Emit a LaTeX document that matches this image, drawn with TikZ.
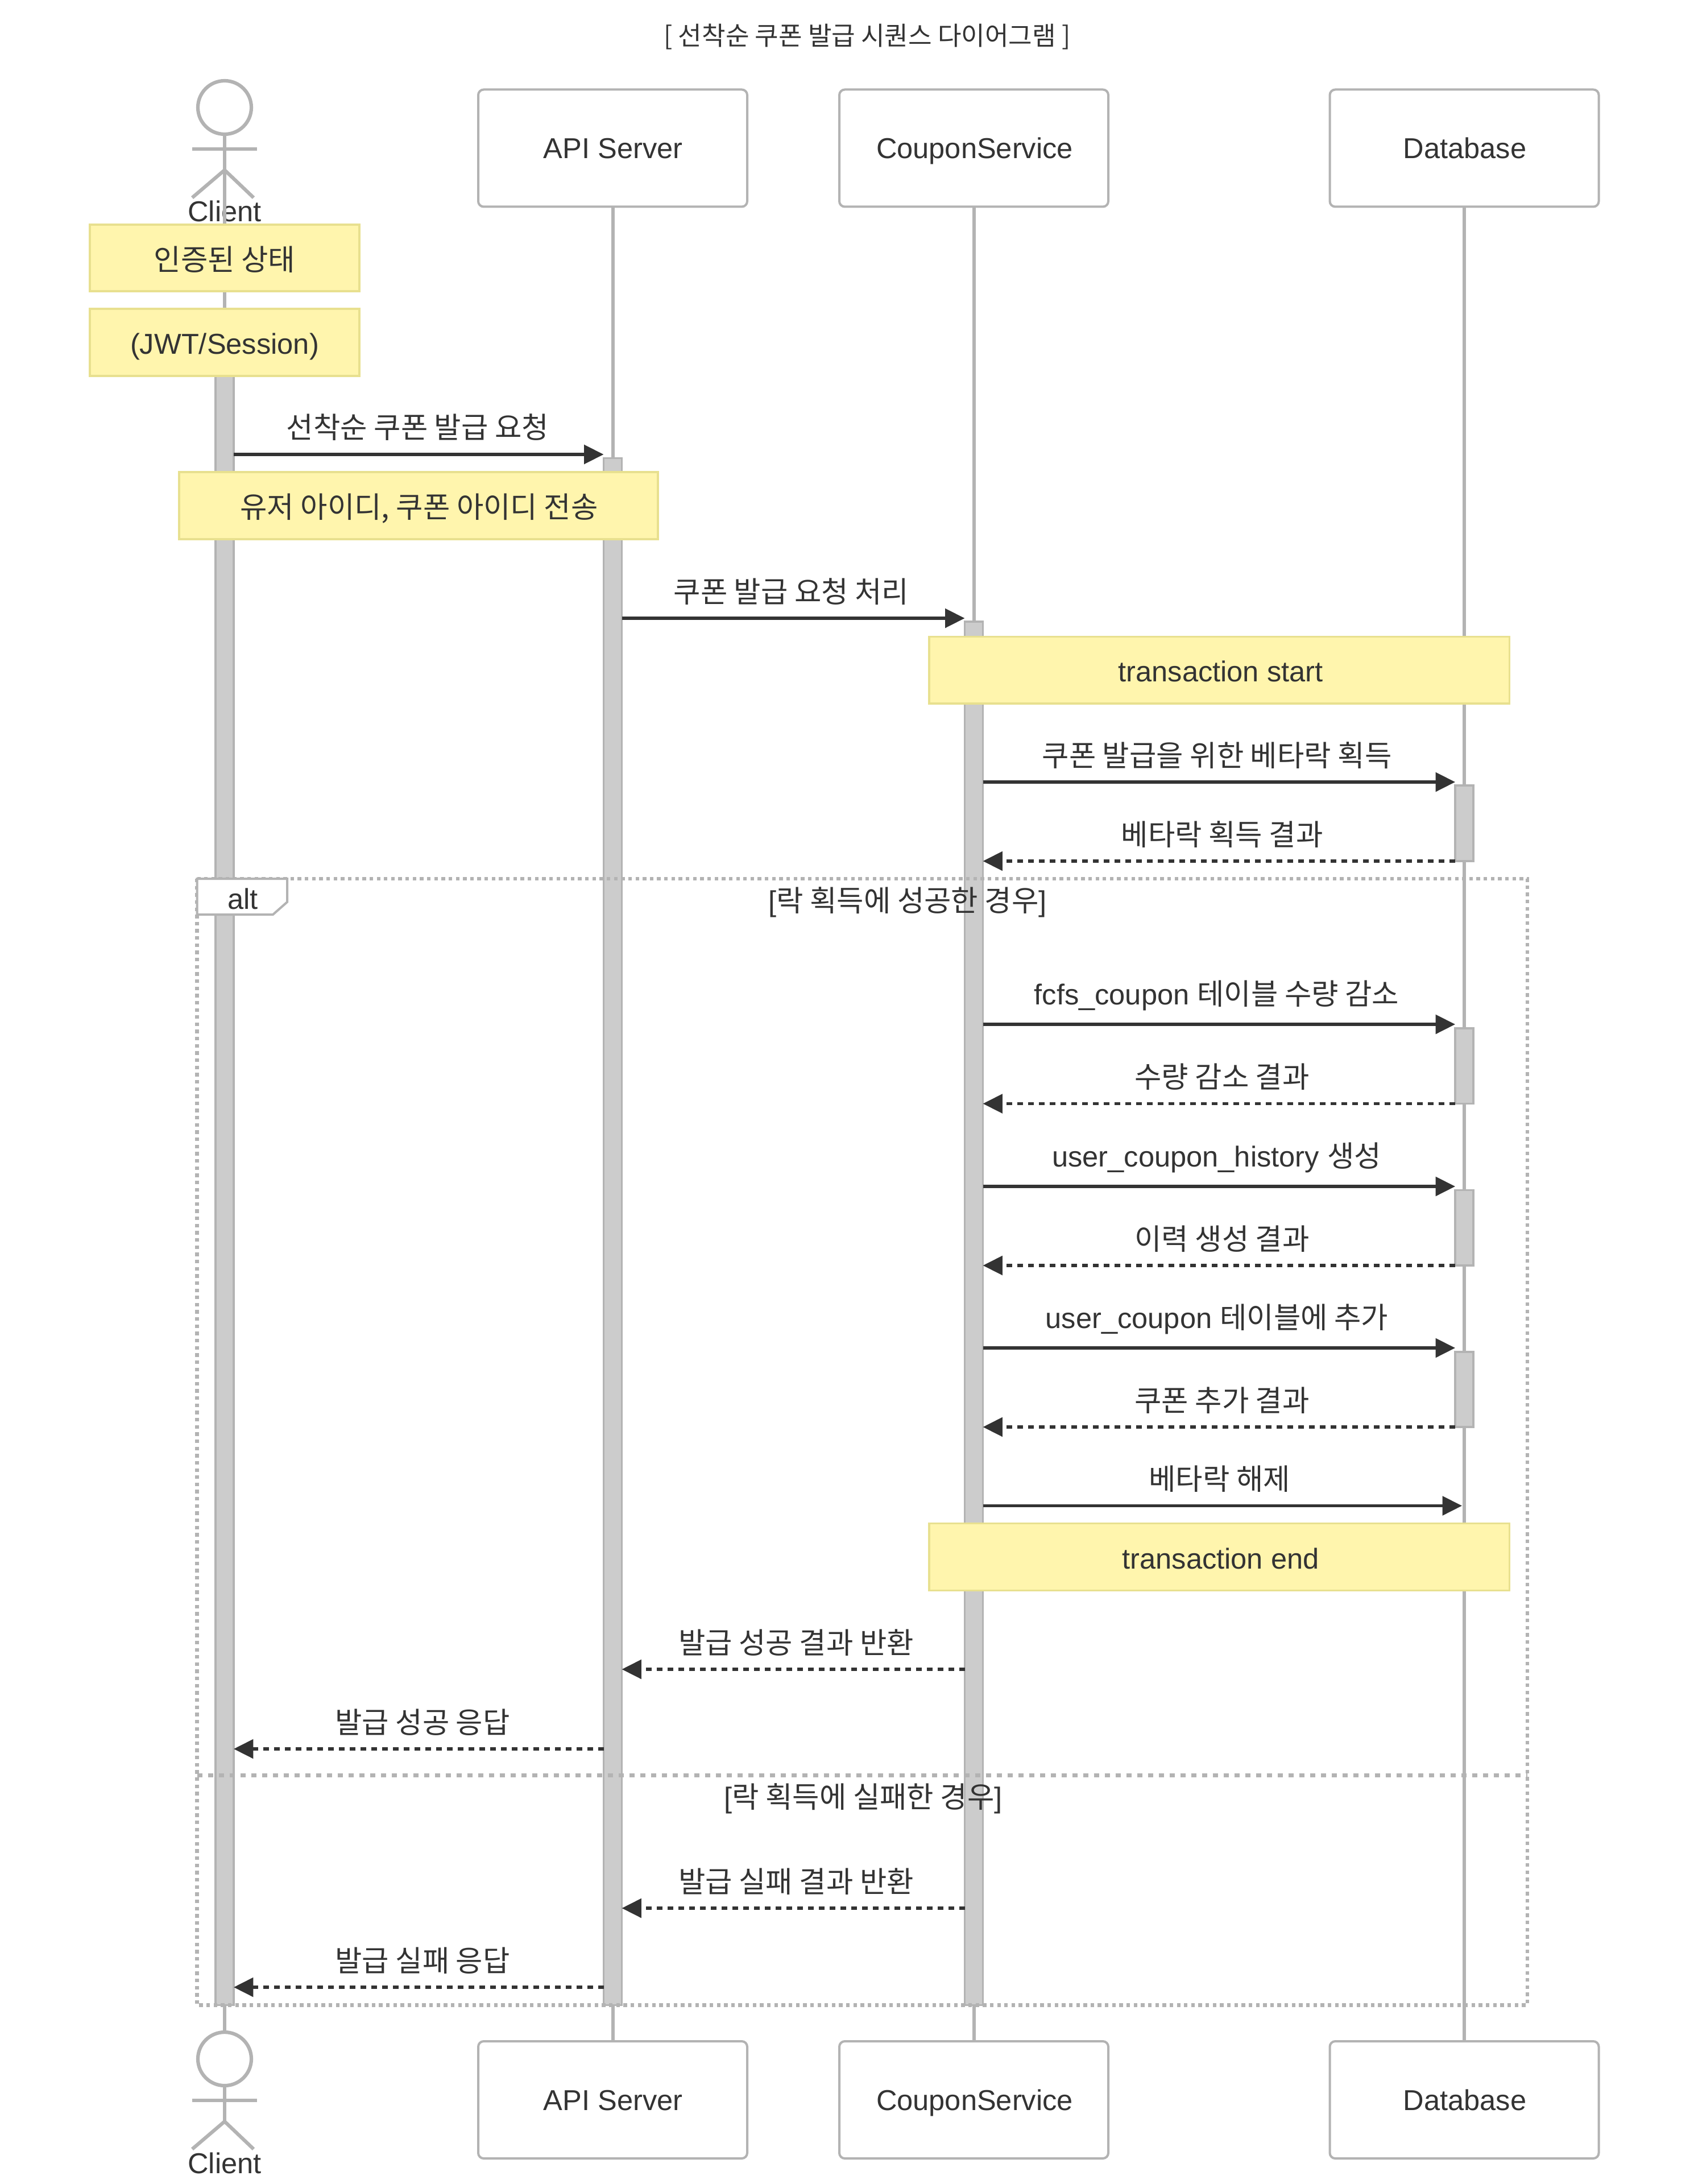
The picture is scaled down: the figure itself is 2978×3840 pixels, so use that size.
\documentclass[tikz,border=0pt]{standalone}
\usepackage{fontspec}
\setmainfont{Liberation Sans}
\newfontfamily\kr[Scale=1.018]{Noto Sans CJK KR}
\usetikzlibrary{arrows.meta}
\definecolor{ink}{HTML}{333333}
\definecolor{gline}{HTML}{B3B3B3}
\definecolor{actbg}{HTML}{CCCCCC}
\definecolor{notebg}{HTML}{FFF5AD}
\definecolor{noteln}{HTML}{E8E08F}
\tikzset{
  txt/.style={text=ink,inner sep=0pt,anchor=base,font=\fontsize{12.65}{15}\selectfont},
  titletxt/.style={txt,font=\fontsize{11.1}{14}\selectfont},
  sized/.style={inner sep=0pt,outer sep=0pt,rectangle},
  actorbox/.style={sized,draw=gline,fill=white,line width=1pt,rounded corners=2.4pt},
  notebox/.style={sized,draw=noteln,fill=notebg,line width=.9pt},
  activ/.style={sized,draw=gline,fill=actbg,line width=.8pt},
  lifeline/.style={draw=gline,line width=1.5pt},
  stick/.style={draw=gline,line width=1.55pt},
  msg/.style={draw=ink,line width=1.3pt,-{Triangle[length=8.6pt,width=8.3pt]}},
  ret/.style={msg,dash pattern=on 2.4pt off 2.35pt},
  loopln/.style={draw=gline,line width=1.55pt,dash pattern=on 1.58pt off 1.58pt},
  elseln/.style={draw=gline,line width=1.55pt,dash pattern=on 2.4pt off 2.35pt},
}
\newcommand{\sizednode}[6]{\node[#1,minimum width={(#5-#3)*0.25pt},minimum height={(#6-#4)*0.25pt}] (#2) at ({(#3+#5)/2},{(#4+#6)/2}) {};}
\newcommand{\stickman}[2]{% name, y offset
  \node[stick,circle,draw,fill=white,inner sep=0pt,outer sep=0pt,minimum size=23.5pt] (#1head) at (395,{189+#2}) {};
  \coordinate (#1hip) at (395,{299+#2});
  \coordinate (#1armL) at (338,{262+#2});
  \coordinate (#1armR) at (452,{262+#2});
  \coordinate (#1legL) at (338,{347.6+#2});
  \coordinate (#1legR) at (446,{347.6+#2});
  \draw[stick] (#1head.south) -- (#1hip);
  \draw[stick] (#1armL) -- (#1armR);
  \draw[stick] (#1hip) -- (#1legL);
  \draw[stick] (#1hip) -- (#1legR);
}
\begin{document}
\begin{tikzpicture}[x=0.25pt,y=-0.25pt]
\useasboundingbox (0,0) rectangle (2978,3840);
\fill[white] (0,0) rectangle (2978,3840);
\node[titletxt] (title) at (1525,79.5) {\kr [ 선착순 쿠폰 발급 시퀀스 다이어그램 ]};

% actors
\sizednode{actorbox}{apiT}{841}{157.5}{1314}{363.5}
\sizednode{actorbox}{svcT}{1476}{157.5}{1949}{363.5}
\sizednode{actorbox}{dbT}{2338.5}{157.5}{2811.5}{363.5}
\sizednode{actorbox}{apiB}{841}{3589}{1314}{3795}
\sizednode{actorbox}{svcB}{1476}{3589}{1949}{3795}
\sizednode{actorbox}{dbB}{2338.5}{3589}{2811.5}{3795}
\node[txt] (apiTt) at (1078,278.7) {API Server};
\node[txt] (svcTt) at (1714,278.7) {CouponService};
\node[txt] (dbTt) at (2576,278.7) {Database};
\node[txt] (apiBt) at (1078,3710) {API Server};
\node[txt] (svcBt) at (1714,3710) {CouponService};
\node[txt] (dbBt) at (2576,3710) {Database};

\stickman{ct}{0}
\stickman{cb}{3431}
\node[txt] (ctt) at (395,390) {Client};
\node[txt] (cbt) at (395,3821) {Client};

% lifelines
\draw[lifeline] (cthip) -- (cbhead.north);
\draw[lifeline] (apiT.south) -- (apiB.north);
\draw[lifeline] (svcT.south) -- (svcB.north);
\draw[lifeline] (dbT.south) -- (dbB.north);

% activations
\sizednode{activ}{acC}{379}{650}{411}{3525.5}
\sizednode{activ}{acA}{1061.5}{805.5}{1093.5}{3525.5}
\sizednode{activ}{acS}{1696.5}{1093}{1728.5}{3525.5}
\sizednode{activ}{acD1}{2559}{1381}{2591}{1514}
\sizednode{activ}{acD2}{2559}{1808}{2591}{1940.5}
\sizednode{activ}{acD3}{2559}{2092.5}{2591}{2225}
\sizednode{activ}{acD4}{2559}{2377}{2591}{2509}

% notes
\sizednode{notebox}{n1}{158}{395}{632}{512}
\sizednode{notebox}{n2}{158}{543}{632}{661}
\sizednode{notebox}{n3}{315}{830}{1157}{948}
\sizednode{notebox}{n4}{1634}{1119.5}{2654.5}{1237}
\sizednode{notebox}{n5}{1634}{2678.6}{2654.5}{2796.4}
\node[txt] (n1t) at (395,475.5) {\kr 인증된 상태};
\node[txt] (n2t) at (395,623) {(JWT/Session)};
\node[txt] (n3t) at (737,910) {\kr 유저 아이디, 쿠폰 아이디 전송};
\node[txt] (n4t) at (2146.5,1198) {transaction start};
\node[txt] (n5t) at (2146.5,2758.7) {transaction end};

% messages
\coordinate (m1) at (0,799);
\coordinate (m2) at (0,1087);
\coordinate (m3) at (0,1375);
\coordinate (m4) at (0,1514);
\coordinate (m5) at (0,1801);
\coordinate (m6) at (0,1940.5);
\coordinate (m7) at (0,2086);
\coordinate (m8) at (0,2225);
\coordinate (m9) at (0,2370);
\coordinate (m10) at (0,2509);
\coordinate (m11) at (0,2647.5);
\coordinate (m12) at (0,2935);
\coordinate (m13) at (0,3075);
\coordinate (m14) at (0,3355);
\coordinate (m15) at (0,3494);
\coordinate (dbE) at (2571,0);
\draw[msg] (acC.east |- m1) -- (acA.west |- m1);
\draw[msg] (acA.east |- m2) -- (acS.west |- m2);
\draw[msg] (acS.east |- m3) -- (acD1.west |- m3);
\draw[ret] (acD1.west |- m4) -- (acS.east |- m4);
\draw[msg] (acS.east |- m5) -- (acD2.west |- m5);
\draw[ret] (acD2.west |- m6) -- (acS.east |- m6);
\draw[msg] (acS.east |- m7) -- (acD3.west |- m7);
\draw[ret] (acD3.west |- m8) -- (acS.east |- m8);
\draw[msg] (acS.east |- m9) -- (acD4.west |- m9);
\draw[ret] (acD4.west |- m10) -- (acS.east |- m10);
\draw[msg] (acS.east |- m11) -- (dbE |- m11);
\draw[ret] (acS.west |- m12) -- (acA.east |- m12);
\draw[ret] (acA.west |- m13) -- (acC.east |- m13);
\draw[ret] (acS.west |- m14) -- (acA.east |- m14);
\draw[ret] (acA.west |- m15) -- (acC.east |- m15);

\node[txt] (l1) at (734.5,771) {\kr 선착순 쿠폰 발급 요청};
\node[txt] (l2) at (1391.5,1059) {\kr 쿠폰 발급 요청 처리};
\node[txt] (l3) at (2140,1347) {\kr 쿠폰 발급을 위한 베타락 획득};
\node[txt] (l4) at (2149,1486) {\kr 베타락 획득 결과};
\node[txt] (l5) at (2139.5,1766) {fcfs\_coupon {\kr 테이블 수량 감소}};
\node[txt] (l6) at (2149,1912.5) {\kr 수량 감소 결과};
\node[txt] (l7) at (2139.5,2051) {user\_coupon\_history {\kr 생성}};
\node[txt] (l8) at (2149,2197) {\kr 이력 생성 결과};
\node[txt] (l9) at (2140,2335) {user\_coupon {\kr 테이블에 추가}};
\node[txt] (l10) at (2149,2481) {\kr 쿠폰 추가 결과};
\node[txt] (l11) at (2144.6,2619.5) {\kr 베타락 해제};
\node[txt] (l12) at (1400,2907) {\kr 발급 성공 결과 반환};
\node[txt] (l13) at (743,3047) {\kr 발급 성공 응답};
\node[txt] (l14) at (1400,3327) {\kr 발급 실패 결과 반환};
\node[txt] (l15) at (743,3466) {\kr 발급 실패 응답};

% alt frame
\draw[loopln] (346.5,1545) rectangle (2685.7,3525.5);
\draw[elseln] (346.5,3121.4) -- (2685.7,3121.4);
\draw[fill=white,draw=gline,line width=1pt] (346.5,1545) -- (505,1545) -- (505,1586) -- (480,1608) -- (346.5,1608) -- cycle;
\node[txt] (altt) at (427,1598) {alt};
\node[txt] (c1) at (1596,1602) {[{\kr 락 획득에 성공한 경우}]};
\node[txt] (c2) at (1518,3178) {[{\kr 락 획득에 실패한 경우}]};
\end{tikzpicture}
\end{document}
